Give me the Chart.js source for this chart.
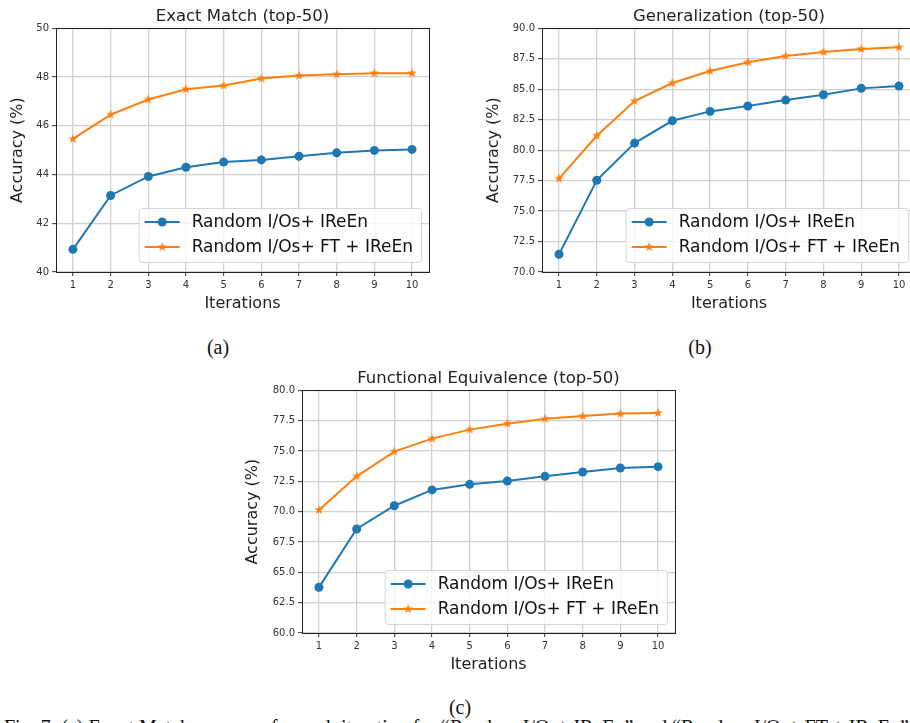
<!DOCTYPE html>
<html lang="en">
<head>
<meta charset="UTF-8" />
<title>IReEn accuracy per iteration</title>
<script src="https://cdn.jsdelivr.net/npm/chart.js@4.4.0/dist/chart.umd.min.js"></script>
<style>
  body {
    margin: 0;
    background: #fff;
    width: 910px;
    height: 723px;
    overflow: hidden;
    position: relative;
  }
  .panel { position: absolute; }
  .cap {
    position: absolute;
    font-family: "Liberation Serif", serif;
    font-size: 20px;
    color: #111;
    transform: translate(-50%, -50%);
  }
  .caption-line {
    position: absolute;
    left: 4px;
    top: 717px;
    font-family: "Liberation Serif", serif;
    font-size: 20px;
    line-height: 1;
    white-space: nowrap;
    color: #111;
  }
</style>
</head>
<body>
  <div class="panel" style="left:0;top:0"><canvas id="em" width="440" height="316"></canvas></div>
  <div class="panel" style="left:470px;top:0"><canvas id="gen" width="457" height="316"></canvas></div>
  <div class="panel" style="left:240px;top:360px"><canvas id="fe" width="446" height="317"></canvas></div>
  <div class="cap" style="left:218px;top:347px">(a)</div>
  <div class="cap" style="left:700px;top:347px">(b)</div>
  <div class="cap" style="left:460px;top:707px">(c)</div>
  <div class="caption-line">Fig. 7: (a) Exact Match accuracy for each iteration for “Random I/Os+ IReEn” and “Random I/Os+ FT + IReEn”</div>
<script>
  // iterations on the x axis
  const iterations = [1, 2, 3, 4, 5, 6, 7, 8, 9, 10];
  const seriesLabels = ['Random I/Os+ IReEn', 'Random I/Os+ FT + IReEn'];

  // (a) exact match
  const emBase = [40.93, 43.14, 43.92, 44.30, 44.51, 44.60, 44.75, 44.89, 44.99, 45.03];
  const emFt = [45.46, 46.46, 47.08, 47.50, 47.65, 47.94, 48.06, 48.11, 48.16, 48.16];
  // (b) generalization
  const genBase = [71.45, 77.53, 80.58, 82.41, 83.18, 83.62, 84.11, 84.55, 85.07, 85.26];
  const genFt = [77.67, 81.18, 84.03, 85.51, 86.49, 87.21, 87.73, 88.05, 88.30, 88.44];
  // (c) functional equivalence
  const feBase = [63.76, 68.57, 70.49, 71.79, 72.25, 72.53, 72.91, 73.27, 73.60, 73.71];
  const feFt = [70.14, 72.91, 74.95, 76.02, 76.76, 77.25, 77.66, 77.88, 78.08, 78.13];

  const BLUE = '#1f77b4';
  const ORANGE = '#ff7f0e';

  Chart.defaults.font.family = '"DejaVu Sans", sans-serif';

  function starImage(color, r) {
    const c = document.createElement('canvas');
    const s = Math.ceil(2 * r + 2);
    c.width = c.height = s;
    const g = c.getContext('2d');
    g.fillStyle = color;
    g.beginPath();
    for (let k = 0; k < 10; k++) {
      const rr = k % 2 ? r * 0.4 : r;
      const ang = -Math.PI / 2 + k * Math.PI / 5;
      g.lineTo(s / 2 + rr * Math.cos(ang), s / 2 + rr * Math.sin(ang));
    }
    g.closePath();
    g.fill();
    return c;
  }
  const star = starImage(ORANGE, 5);

  // frame round the plot area (matplotlib spines)
  const frame = {
    id: 'frame',
    afterDatasetsDraw(chart) {
      const { ctx, chartArea: a } = chart;
      ctx.save();
      ctx.strokeStyle = '#222';
      ctx.lineWidth = 1;
      ctx.strokeRect(Math.round(a.left) + 0.5, Math.round(a.top) + 0.5,
        Math.round(a.right - a.left), Math.round(a.bottom - a.top));
      ctx.restore();
    }
  };

  // legend box in the lower right corner of the plot area
  const boxLegend = {
    id: 'boxLegend',
    afterDraw(chart, args, opts) {
      const { ctx, chartArea: a } = chart;
      const sets = chart.data.datasets;
      ctx.save();
      ctx.font = '17px "DejaVu Sans"';
      const tw = Math.max(...sets.map(d => ctx.measureText(d.label).width));
      const w = 6 + 35 + 12 + tw + 8, h = 54;
      const x = a.right - opts.right - w, y = a.bottom - opts.bottom - h;
      ctx.beginPath();
      ctx.roundRect(x + 0.5, y + 0.5, w, h, 3);
      ctx.fillStyle = 'rgba(255,255,255,0.8)';
      ctx.fill();
      ctx.strokeStyle = '#d6d6d6';
      ctx.lineWidth = 1;
      ctx.stroke();
      sets.forEach((d, i) => {
        const cy = y + 14 + i * 25;
        ctx.beginPath();
        ctx.moveTo(x + 6, cy);
        ctx.lineTo(x + 41, cy);
        ctx.strokeStyle = d.borderColor;
        ctx.lineWidth = 2;
        ctx.stroke();
        const mx = x + 23.5;
        if (d.pointStyle instanceof HTMLCanvasElement) {
          ctx.drawImage(d.pointStyle, mx - d.pointStyle.width / 2, cy - d.pointStyle.height / 2);
        } else {
          ctx.beginPath();
          ctx.arc(mx, cy, 4.5, 0, Math.PI * 2);
          ctx.fillStyle = d.borderColor;
          ctx.fill();
        }
        ctx.fillStyle = '#111';
        ctx.textBaseline = 'middle';
        ctx.textAlign = 'left';
        ctx.fillText(d.label, x + 53, cy + 1);
      });
      ctx.restore();
    }
  };

  function makeChart(id, title, base, ft, yMin, yMax, step, decimals, lay) {
    new Chart(document.getElementById(id), {
      type: 'line',
      data: {
        datasets: [{
          label: seriesLabels[0],
          data: iterations.map((it, i) => ({ x: it, y: base[i] })),
          borderColor: BLUE,
          backgroundColor: BLUE,
          borderWidth: 2,
          pointStyle: 'circle',
          pointRadius: 4.5,
          pointBorderWidth: 0,
          tension: 0
        }, {
          label: seriesLabels[1],
          data: iterations.map((it, i) => ({ x: it, y: ft[i] })),
          borderColor: ORANGE,
          backgroundColor: ORANGE,
          borderWidth: 2,
          pointStyle: star,
          pointRadius: 5,
          tension: 0
        }]
      },
      options: {
        responsive: false,
        animation: false,
        devicePixelRatio: 1,
        layout: { padding: { left: 0, right: 11, top: 0, bottom: 0 } },
        plugins: {
          legend: { display: false },
          tooltip: { enabled: false },
          title: {
            display: true,
            text: title,
            fullSize: false,
            color: '#222',
            font: { size: 16.5, weight: 'normal' },
            padding: { top: lay.titleTop, bottom: lay.titleBottom }
          },
          boxLegend: { right: 8, bottom: lay.legendBottom }
        },
        scales: {
          x: {
            type: 'linear',
            min: 0.55,
            max: 10.45,
            afterBuildTicks: s => { s.ticks = iterations.map(v => ({ value: v })); },
            afterFit: s => { s.height = lay.xHeight; },
            ticks: { color: '#333', font: { size: 10 }, padding: 3 },
            grid: { color: '#d0d0d0', lineWidth: 1.3, drawTicks: true, tickLength: 4, tickColor: '#333', tickWidth: 1 },
            border: { display: false },
            title: { display: true, text: 'Iterations', color: '#222', font: { size: 16 }, padding: { top: 0, bottom: 3 } }
          },
          y: {
            min: yMin,
            max: yMax,
            ticks: {
              stepSize: step,
              color: '#333',
              font: { size: 10 },
              padding: 3,
              callback: v => decimals ? v.toFixed(1) : v
            },
            afterFit: s => { s.width = lay.yWidth; },
            grid: { color: '#d0d0d0', lineWidth: 1.3, drawTicks: true, tickLength: 4, tickColor: '#333', tickWidth: 1 },
            border: { display: false },
            title: { display: true, text: 'Accuracy (%)', color: '#222', font: { size: 16 }, padding: { top: lay.yTitlePad, bottom: 0 } }
          }
        }
      },
      plugins: [frame, boxLegend]
    });
  }

  makeChart('em', 'Exact Match (top-50)', emBase, emFt, 40, 50, 2, false,
    { titleTop: 7, titleBottom: 1.5, xHeight: 44, yWidth: 56, yTitlePad: 8, legendBottom: 10 });
  makeChart('gen', 'Generalization (top-50)', genBase, genFt, 70, 90, 2.5, true,
    { titleTop: 7, titleBottom: 1.5, xHeight: 44, yWidth: 72, yTitlePad: 14, legendBottom: 10 });
  makeChart('fe', 'Functional Equivalence (top-50)', feBase, feFt, 60, 80, 2.5, true,
    { titleTop: 9, titleBottom: 1.5, xHeight: 44, yWidth: 62, yTitlePad: 3, legendBottom: 9 });
</script>
</body>
</html>
